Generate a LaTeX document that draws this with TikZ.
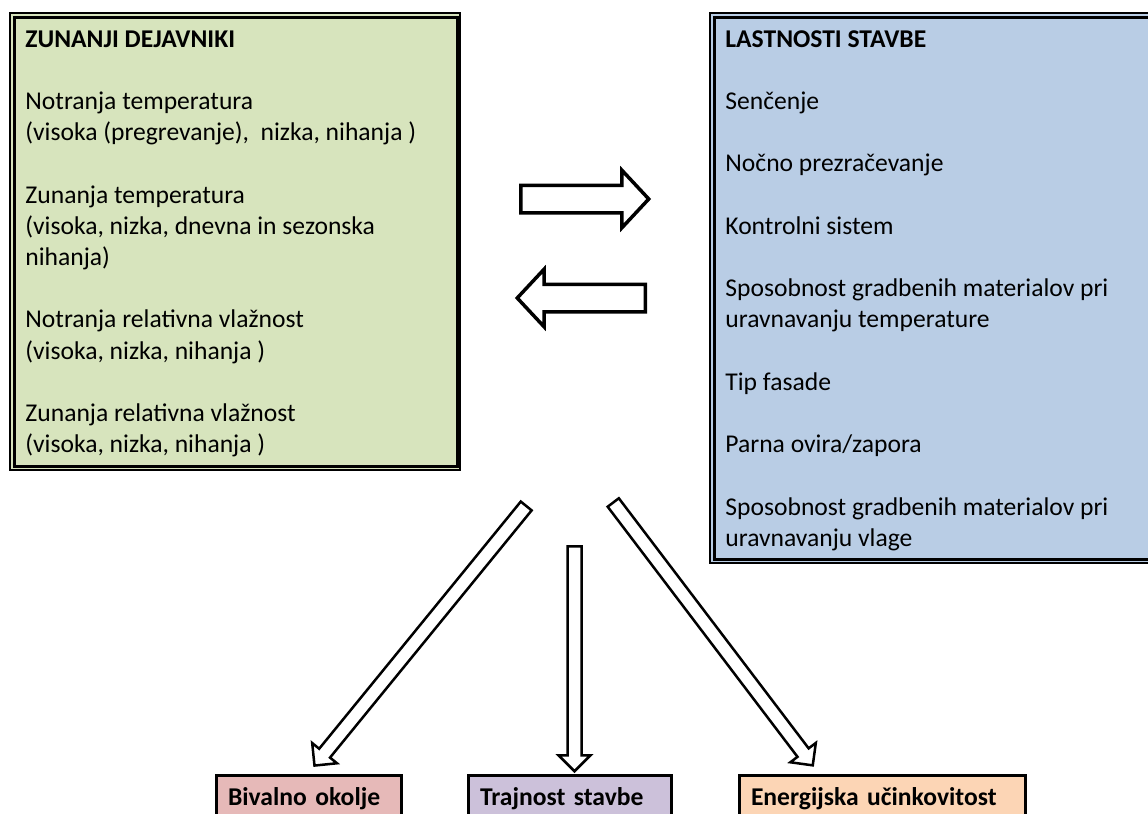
\documentclass[tikz,border=0pt]{standalone}
\usepackage{fontspec}
\setmainfont{Carlito}
\usetikzlibrary{shapes.arrows,positioning}
\definecolor{cgreen}{HTML}{D7E4BD}
\definecolor{cblue}{HTML}{B9CDE5}
\definecolor{cred}{HTML}{E6B9B8}
\definecolor{cviolet}{HTML}{CCC1DA}
\definecolor{corange}{HTML}{FCD5B5}
\newcommand{\itemgap}{\\[15.6pt]}

\begin{document}
\begin{tikzpicture}[x=0.5pt,y=-0.5pt,
  outer box/.style={rectangle,draw,line width=0.75pt,outer sep=0pt,anchor=north west},
  list text/.style={align=left,inner sep=0pt,anchor=north west,font=\fontsize{12.8pt}{15.6pt}\selectfont},
  result node/.style={rectangle,draw,line width=1.5pt,outer sep=0pt,anchor=north west,
        inner xsep=5.75pt,inner ysep=0pt,text height=15pt,text depth=25pt,align=left,
        font=\fontsize{12.8pt}{15pt}\selectfont\bfseries},
  block arrow/.style={single arrow,draw,fill=white,line width=1.75pt,inner xsep=0pt,inner ysep=6pt,anchor=tail,
        minimum height=64pt,minimum width=27pt,single arrow head extend=7.5pt,single arrow tip angle=94},
  thin arrow/.style={single arrow,draw,fill=white,line width=1.25pt,inner xsep=0pt,inner ysep=2.875pt,anchor=tail,
        minimum width=14.75pt,single arrow head extend=4.5pt,single arrow tip angle=90}]
  \clip (0,0) rectangle (1148,814);

  \node (zun) [outer box,fill=cgreen,minimum width=225pt,minimum height=228.5pt] at (10,13) {};
  \draw[line width=1.5pt] ([shift={(4,4)}]zun.north west) rectangle ([shift={(-3,-4)}]zun.south east);
  \node (zuntext) [list text] at ([shift={(15,17)}]zun.north west) {\textbf{ZUNANJI DEJAVNIKI}\itemgap
    Notranja temperatura\\(visoka (pregrevanje),\ \ nizka, nihanja )\itemgap
    Zunanja temperatura\\(visoka, nizka, dnevna in sezonska\\nihanja)\itemgap
    Notranja relativna vlažnost\\(visoka, nizka, nihanja )\itemgap
    Zunanja relativna vlažnost\\(visoka, nizka, nihanja )};

  \node (last) [outer box,fill=cblue,minimum width=225pt,minimum height=275pt] at (710,13) {};
  \draw[line width=1.5pt] ([shift={(4,4)}]last.north west) rectangle ([shift={(-4,-4)}]last.south east);
  \node (lasttext) [list text] at ([shift={(15,17)}]last.north west) {\textbf{LASTNOSTI STAVBE}\itemgap
    Senčenje\itemgap
    Nočno prezračevanje\itemgap
    Kontrolni sistem\itemgap
    Sposobnost gradbenih materialov pri\\uravnavanju temperature\itemgap
    Tip fasade\itemgap
    Parna ovira/zapora\itemgap
    Sposobnost gradbenih materialov pri\\uravnavanju vlage};

  \node (toright) [block arrow] at (519,199) {};
  \node (toleft) [block arrow,rotate=180] at (647,298) {};

  \node (tobival) [thin arrow,minimum height=167.5pt,rotate=-129.2] at (527,505) {};
  \node (totraj) [thin arrow,minimum height=112.5pt,rotate=-90] at (574.5,545) {};
  \node (toener) [thin arrow,minimum height=165pt,rotate=-52.8] at (612.5,501.5) {};

  \node (bival) [result node,fill=cred,text width=81pt] at (216.5,775) {Bivalno okolje};
  \node (traj) [result node,fill=cviolet,text width=90pt] at (468.5,775) {Trajnost stavbe};
  \node (ener) [result node,fill=corange,text width=131.25pt] at (739.5,775) {Energijska učinkovitost};
\end{tikzpicture}
\end{document}
